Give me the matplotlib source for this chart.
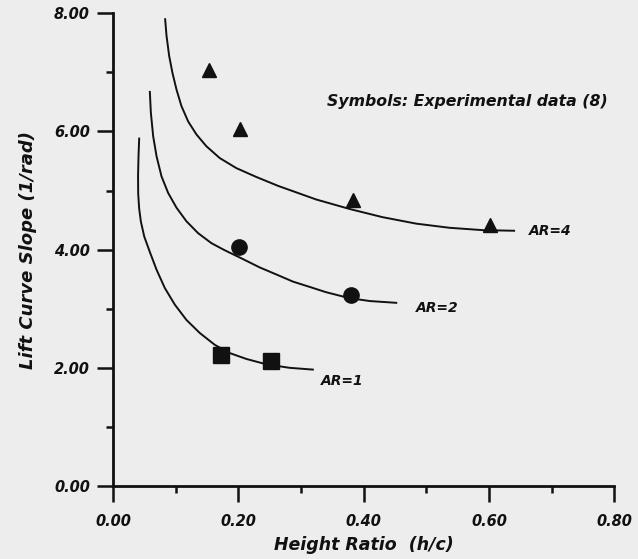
import matplotlib
matplotlib.use("Agg")
import matplotlib.pyplot as plt
from matplotlib.ticker import MultipleLocator, FormatStrFormatter

# theory curves
ar4_x = [0.0833, 0.0855, 0.0897, 0.0950, 0.1014, 0.1093, 0.1200, 0.1332, 0.1491,
         0.1704, 0.1969, 0.2288, 0.2633, 0.2950, 0.324, 0.377, 0.430, 0.484,
         0.537, 0.590, 0.640]
ar4_y = [7.90, 7.62, 7.28, 6.99, 6.71, 6.43, 6.17, 5.95, 5.75,
         5.55, 5.38, 5.23, 5.08, 4.96, 4.85, 4.69, 4.55, 4.44,
         4.37, 4.33, 4.32]

ar2_x = [0.0589, 0.0605, 0.0642, 0.0696, 0.0775, 0.0881, 0.1014, 0.1173, 0.1358,
         0.1571, 0.1783, 0.2075, 0.234, 0.2607, 0.287, 0.3137, 0.340, 0.377,
         0.410, 0.452]
ar2_y = [6.67, 6.32, 5.92, 5.58, 5.24, 4.96, 4.71, 4.48, 4.28,
         4.11, 3.99, 3.84, 3.70, 3.58, 3.46, 3.37, 3.28, 3.18,
         3.13, 3.10]

ar1_x = [0.0419, 0.0408, 0.0401, 0.0403, 0.0418, 0.0445, 0.0500, 0.0589, 0.0696,
         0.0828, 0.0987, 0.1173, 0.1385, 0.1624, 0.1863, 0.2129, 0.2447, 0.2818,
         0.319]
ar1_y = [5.88, 5.58, 5.25, 4.95, 4.70, 4.48, 4.22, 3.96, 3.66,
         3.35, 3.07, 2.81, 2.59, 2.39, 2.25, 2.15, 2.06, 2.00,
         1.97]

# experimental data (8)
tri_x = [0.153, 0.203, 0.383, 0.601]
tri_y = [7.04, 6.05, 4.84, 4.41]
circ_x = [0.201, 0.380]
circ_y = [4.05, 3.23]
sq_x = [0.172, 0.252]
sq_y = [2.22, 2.12]

bg = "#ededed"
ink = "#111111"
font = dict(family="DejaVu Sans", weight="bold", style="italic", color=ink)

fig = plt.figure(figsize=(6.38, 5.59), dpi=100, facecolor=bg)
ax = fig.add_axes([0.177, 0.1306, 0.786, 0.8456], facecolor=bg)

for xs, ys in [(ar4_x, ar4_y), (ar2_x, ar2_y), (ar1_x, ar1_y)]:
    ax.plot(xs, ys, color=ink, lw=1.4, clip_on=False, solid_joinstyle="round")

ax.plot(tri_x, tri_y, "^", color=ink, ms=10, clip_on=False)
ax.plot(circ_x, circ_y, "o", color=ink, ms=11, clip_on=False)
ax.plot(sq_x, sq_y, "s", color=ink, ms=12, clip_on=False)

ax.text(0.341, 6.5, "Symbols: Experimental data (8)", fontsize=11.3, va="center", **font)
ax.text(0.663, 4.32, "AR=4", fontsize=10, va="center", **font)
ax.text(0.4836, 3.02, "AR=2", fontsize=10, va="center", **font)
ax.text(0.331, 1.78, "AR=1", fontsize=10, va="center", **font)

ax.set_xlim(0, 0.8)
ax.set_ylim(0, 8)
ax.xaxis.set_major_locator(MultipleLocator(0.2))
ax.xaxis.set_minor_locator(MultipleLocator(0.1))
ax.yaxis.set_major_locator(MultipleLocator(2))
ax.yaxis.set_minor_locator(MultipleLocator(1))
ax.xaxis.set_major_formatter(FormatStrFormatter("%.2f"))
ax.yaxis.set_major_formatter(FormatStrFormatter("%.2f"))

for s in ["top", "right"]:
    ax.spines[s].set_visible(False)
for s in ["left", "bottom"]:
    ax.spines[s].set_linewidth(2)
    ax.spines[s].set_color(ink)

ax.tick_params(which="major", length=11.5, width=1.8, color=ink, direction="out")
ax.tick_params(which="minor", length=5, width=1.8, color=ink, direction="out")
ax.tick_params(axis="x", which="major", pad=9)
ax.tick_params(axis="y", which="major", pad=5)
for lab in ax.get_xticklabels() + ax.get_yticklabels():
    lab.set_fontfamily("DejaVu Sans")
    lab.set_fontweight("bold")
    lab.set_fontstyle("italic")
    lab.set_fontsize(10.5)
    lab.set_color(ink)

ax.set_xlabel("Height Ratio  (h/c)", fontsize=12.5, labelpad=5, **font)
ax.set_ylabel("Lift Curve Slope (1/rad)", fontsize=13, labelpad=12, **font)

fig.savefig("out.png", dpi=100, facecolor=bg)
